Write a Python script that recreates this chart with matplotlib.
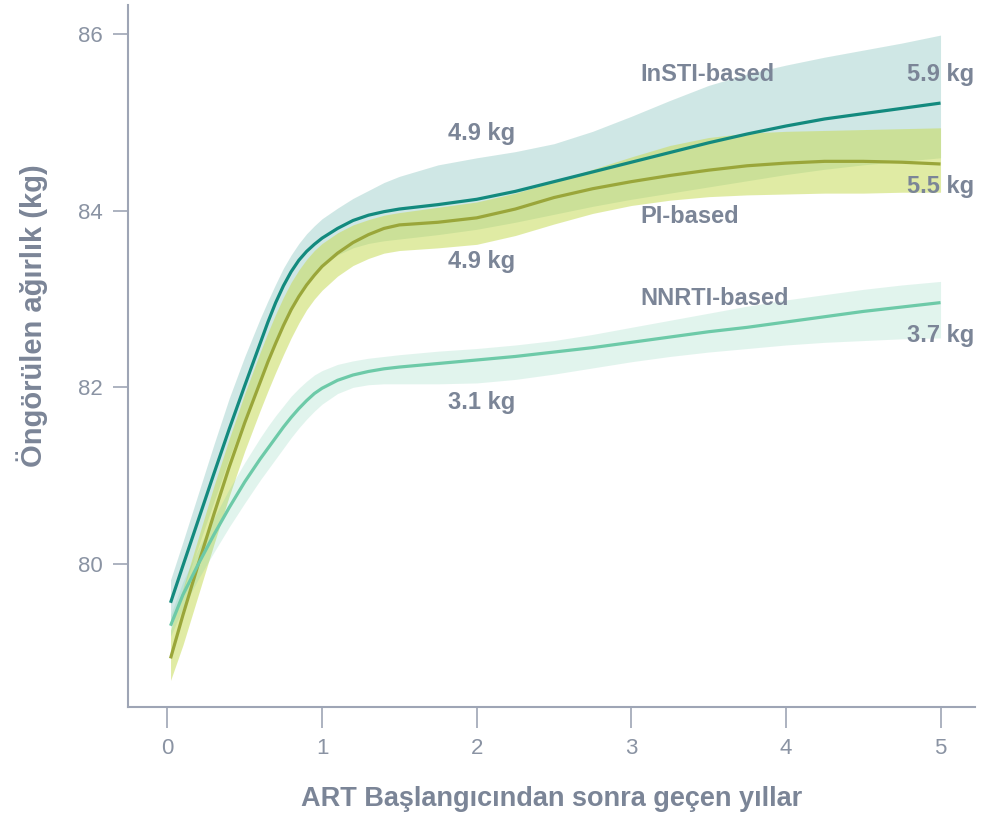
import matplotlib
matplotlib.use("Agg")
from matplotlib import pyplot as plt

plt.rcParams['font.family'] = ['Liberation Sans', 'DejaVu Sans']

# years since ART start
years = [0.02, 0.1, 0.2, 0.3, 0.4, 0.5, 0.6, 0.65, 0.7, 0.75, 0.8, 0.85, 0.9, 0.95, 1.0,
         1.1, 1.2, 1.3, 1.4, 1.5, 1.75, 2.0, 2.25, 2.5, 2.75, 3.0, 3.25, 3.5, 3.75,
         4.0, 4.25, 4.5, 4.75, 5.0]

# InSTI-based regimen
insti = [79.56, 79.98, 80.5, 81.02, 81.53, 82.02, 82.5, 82.74, 82.96, 83.15, 83.31, 83.44, 83.54, 83.62, 83.69,
         83.8, 83.89, 83.95, 83.99, 84.02, 84.07, 84.13, 84.22, 84.33, 84.44, 84.55, 84.66, 84.77, 84.87,
         84.96, 85.04, 85.1, 85.16, 85.22]
insti_hi = [79.82, 80.25, 80.8, 81.35, 81.88, 82.35, 82.78, 82.98, 83.17, 83.35, 83.5, 83.63, 83.74, 83.83, 83.91,
            84.03, 84.14, 84.23, 84.32, 84.39, 84.52, 84.6, 84.67, 84.76, 84.9, 85.07, 85.25, 85.42, 85.55,
            85.65, 85.74, 85.82, 85.9, 85.99]
insti_lo = [79.3, 79.7, 80.2, 80.7, 81.2, 81.66, 82.1, 82.32, 82.53, 82.73, 82.92, 83.07, 83.2, 83.3, 83.38,
            83.5, 83.58, 83.63, 83.66, 83.68, 83.73, 83.79, 83.87, 83.96, 84.05, 84.13, 84.2, 84.27, 84.34,
            84.41, 84.47, 84.52, 84.56, 84.6]

# PI-based regimen
pi = [78.93, 79.42, 80.0, 80.56, 81.1, 81.6, 82.06, 82.29, 82.5, 82.7, 82.88, 83.03, 83.16, 83.27, 83.37,
      83.52, 83.64, 83.73, 83.8, 83.84, 83.87, 83.92, 84.02, 84.15, 84.25, 84.33, 84.4, 84.46, 84.51,
      84.54, 84.56, 84.56, 84.55, 84.53]
pi_hi = [79.25, 79.72, 80.3, 80.88, 81.42, 81.93, 82.4, 82.62, 82.83, 83.02, 83.19, 83.33, 83.45, 83.55, 83.63,
         83.75, 83.84, 83.9, 83.95, 83.98, 84.04, 84.1, 84.2, 84.33, 84.47, 84.61, 84.74, 84.83, 84.88,
         84.9, 84.91, 84.92, 84.93, 84.94]
pi_lo = [78.68, 79.08, 79.65, 80.22, 80.77, 81.28, 81.74, 81.96, 82.17, 82.37, 82.56, 82.73, 82.88, 83.0, 83.1,
         83.26, 83.38, 83.46, 83.52, 83.55, 83.58, 83.62, 83.72, 83.85, 83.97, 84.06, 84.12, 84.16, 84.18,
         84.19, 84.2, 84.2, 84.21, 84.21]

# NNRTI-based regimen
nnrti = [79.3, 79.65, 80.0, 80.33, 80.64, 80.93, 81.19, 81.31, 81.43, 81.55, 81.66, 81.76, 81.85, 81.93, 81.99,
         82.08, 82.14, 82.18, 82.21, 82.23, 82.27, 82.31, 82.35, 82.4, 82.45, 82.51, 82.57, 82.63, 82.68,
         82.74, 82.8, 82.86, 82.91, 82.96]
nnrti_hi = [79.42, 79.8, 80.17, 80.52, 80.85, 81.15, 81.43, 81.56, 81.68, 81.79, 81.9, 81.99, 82.07, 82.14, 82.19,
            82.26, 82.3, 82.33, 82.35, 82.37, 82.41, 82.44, 82.48, 82.53, 82.6, 82.68, 82.76, 82.84, 82.92,
            82.99, 83.05, 83.11, 83.16, 83.2]
nnrti_lo = [79.18, 79.5, 79.83, 80.13, 80.42, 80.69, 80.95, 81.07, 81.19, 81.31, 81.43, 81.54, 81.64, 81.73, 81.81,
            81.93, 82.0, 82.03, 82.04, 82.04, 82.04, 82.05, 82.09, 82.15, 82.22, 82.29, 82.35, 82.4, 82.44,
            82.48, 82.51, 82.53, 82.55, 82.56]

xticks = [0, 1, 2, 3, 4, 5]
yticks = [80, 82, 84, 86]

txt = '#7b8597'
axis_col = '#9ea5b5'
c_insti = '#138a7e'
c_pi = '#9aa63a'
c_nnrti = '#6dcaa8'

fig = plt.figure(figsize=(9.81, 8.19), dpi=100)
ax = fig.add_axes([0.1305, 0.1368, 0.8634, 0.857])

ax.fill_between(years, insti_lo, insti_hi, color=c_insti, alpha=0.2, lw=0)
ax.fill_between(years, pi_lo, pi_hi, color='#c8dc5a', alpha=0.55, lw=0)
ax.fill_between(years, nnrti_lo, nnrti_hi, color=c_nnrti, alpha=0.2, lw=0)

ax.plot(years, pi, color=c_pi, lw=2.3, solid_capstyle='butt')
ax.plot(years, nnrti, color=c_nnrti, lw=2.3, solid_capstyle='butt')
ax.plot(years, insti, color=c_insti, lw=2.3, solid_capstyle='butt')

lab = dict(color=txt, fontsize=17, fontweight='bold', va='center')
ax.text(3.06, 85.54, 'InSTI-based', ha='left', **lab)
ax.text(3.06, 83.93, 'PI-based', ha='left', **lab)
ax.text(3.06, 83.01, 'NNRTI-based', ha='left', **lab)
ax.text(5.22, 85.54, '5.9 kg', ha='right', **lab)
ax.text(5.22, 84.27, '5.5 kg', ha='right', **lab)
ax.text(5.22, 82.59, '3.7 kg', ha='right', **lab)
ax.text(2.03, 84.88, '4.9 kg', ha='center', **lab)
ax.text(2.03, 83.43, '4.9 kg', ha='center', **lab)
ax.text(2.03, 81.83, '3.1 kg', ha='center', **lab)

ax.set_xlim(-0.255, 5.223)
ax.set_ylim(78.38, 86.33)
ax.set_xticks(xticks)
ax.set_yticks(yticks)

for s in ['top', 'right']:
    ax.spines[s].set_visible(False)
for s in ['left', 'bottom']:
    ax.spines[s].set_color(axis_col)
    ax.spines[s].set_linewidth(1.5)
ax.tick_params(axis='both', colors=axis_col, labelcolor='#8a93a3', labelsize=16, width=1.2)
ax.tick_params(axis='y', length=11, pad=7)
ax.tick_params(axis='x', length=15, pad=7)

ax.set_xlabel('ART Başlangıcından sonra geçen yıllar', color=txt, fontsize=19.5,
              fontweight='bold', labelpad=20)
ax.set_ylabel('Öngörülen ağırlık (kg)', color=txt, fontsize=21, fontweight='bold')
ax.yaxis.set_label_coords(-0.094, 0.558)

fig.savefig('out.png', dpi=100)
